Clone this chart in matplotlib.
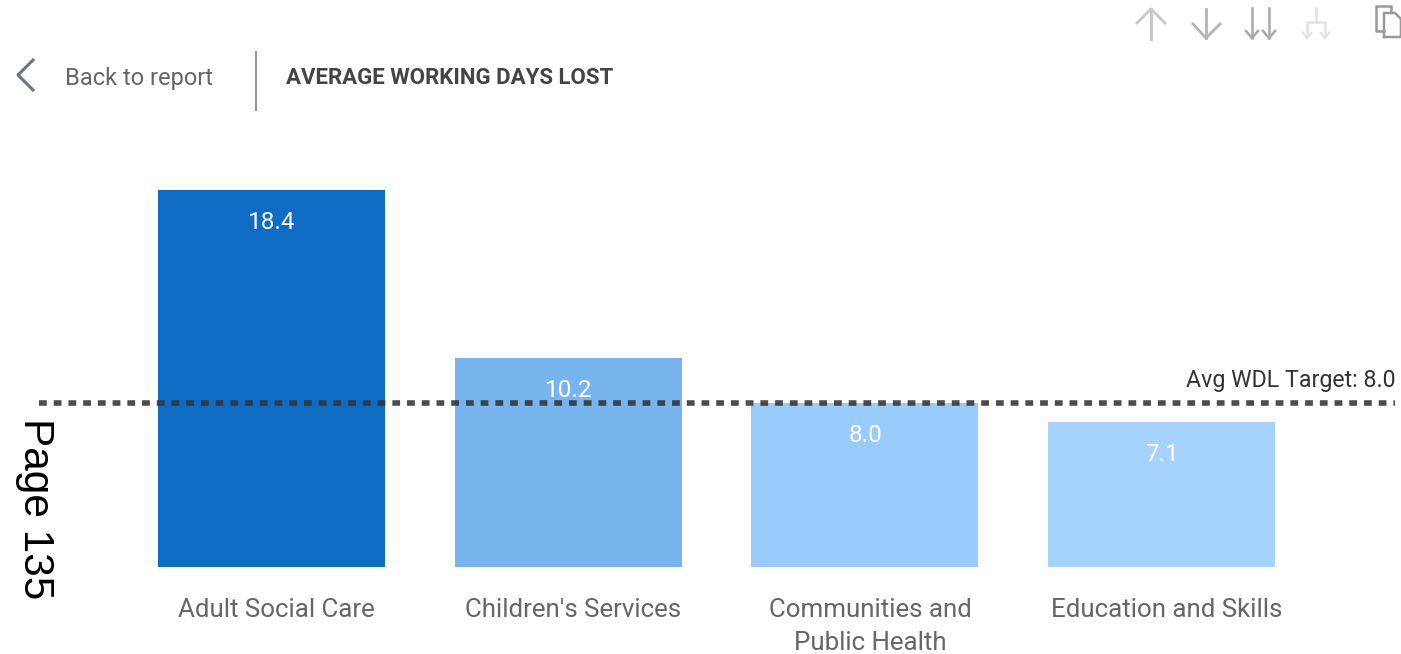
import matplotlib
matplotlib.use('Agg')
import matplotlib.pyplot as plt
from matplotlib.transforms import ScaledTranslation

W, H = 1401, 654

departments = ['Adult Social Care', "Children's Services", 'Communities and\nPublic Health', 'Education and Skills']
wdl_values = [18.4, 10.2, 8.0, 7.1]
value_labels = ['18.4', '10.2', '8.0', '7.1']
bar_colors = ['#0F6CC4', '#78B4EE', '#99CBFB', '#A5D2FF']
target = 8.0
target_label = 'Avg WDL Target: 8.0'

plt.rcParams['font.family'] = ['Roboto', 'DejaVu Sans']

fig = plt.figure(figsize=(W / 100, H / 100), dpi=100, facecolor='white')

# plot area, pixel box
ax = fig.add_axes([39 / W, 1 - 567 / H, (1395 - 39) / W, (567 - 190) / H])
ax.bar(range(4), wdl_values, width=0.765, color=bar_colors)
ax.set_xlim(-0.783, 3.786)
ax.set_ylim(0, 18.4)
ax.patch.set_alpha(0)
for s in ax.spines.values():
    s.set_visible(False)
ax.set_yticks([])
ax.set_xticks(range(4))
ax.set_xticklabels(departments, fontsize=18.6, color='#666666', linespacing=1.45)
ax.tick_params(axis='x', length=0, pad=22.4)
# category labels sit a few pixels right of the bar centres
shift = ScaledTranslation(5 / 100, 0, fig.dpi_scale_trans)
for lab in ax.get_xticklabels():
    lab.set_transform(lab.get_transform() + shift)

for i, (v, lab) in enumerate(zip(wdl_values, value_labels)):
    ax.annotate(lab, (i, v), xytext=(0.5, -23.5), textcoords='offset points', ha='center', va='center',
                color='white', fontsize=17.5)

ax.axhline(target, color='#333333', alpha=0.88, lw=4, dashes=(1.4, 1.25), dash_capstyle='butt')
ax.annotate(target_label, (1, target), xycoords=('axes fraction', 'data'), xytext=(0, 16),
            textcoords='offset points', ha='right', va='center', fontsize=16.7, color='#333333')

# overlay in pixel coordinates for the report header and icons
ov = fig.add_axes([0, 0, 1, 1])
ov.set_xlim(0, W)
ov.set_ylim(H, 0)
ov.axis('off')
ov.patch.set_alpha(0)

ov.plot([33, 18, 33], [60, 75, 90], color='#6b7680', lw=2.2)
ov.text(65, 78.5, 'Back to report', fontsize=17, color='#666666', va='center')
ov.plot([255.5, 255.5], [52, 110], color='#999999', lw=1.5)
ov.text(286, 78, 'AVERAGE WORKING DAYS LOST', fontsize=16, color='#444444', va='center',
        fontweight='bold', family=['Roboto', 'DejaVu Sans'])

# toolbar icons
ic = '#c8c8c8'
ov.plot([1151, 1151], [9, 39], color=ic, lw=2.2)
ov.plot([1137, 1151, 1165], [23, 9, 23], color=ic, lw=2)
ic = '#b4b4b4'
ov.plot([1206, 1206], [9, 38], color=ic, lw=2)
ov.plot([1193, 1206, 1220], [24, 38, 24], color=ic, lw=2)
for x in (1252, 1269):
    ov.plot([x, x], [8, 38], color='#a8a8a8', lw=1.8)
    ov.plot([x - 6, x, x + 6], [31, 38, 31], color='#a8a8a8', lw=1.8)
ic = '#e2e2e2'
ov.plot([1316, 1316], [8, 22], color=ic, lw=1.8)
ov.plot([1307, 1307, 1325, 1325], [33, 22, 22, 33], color=ic, lw=1.8)
for x in (1307, 1325):
    ov.plot([x - 4, x, x + 4], [33, 38, 33], color=ic, lw=1.8)
ic = '#9a9a9a'
ov.plot([1384, 1376, 1376, 1391, 1391], [31, 31, 6, 6, 12], color=ic, lw=1.8)
ov.plot([1384, 1384, 1395, 1401, 1401, 1384], [37, 13, 13, 19, 37, 37], color=ic, lw=1.8)

# page stamp from the PDF it was cut from
ov.text(35, 509, 'Page 135', rotation=-90, fontsize=30.5, color='black', ha='center', va='center',
        family=['Liberation Sans', 'DejaVu Sans'])

fig.savefig('out.png', dpi=100)
